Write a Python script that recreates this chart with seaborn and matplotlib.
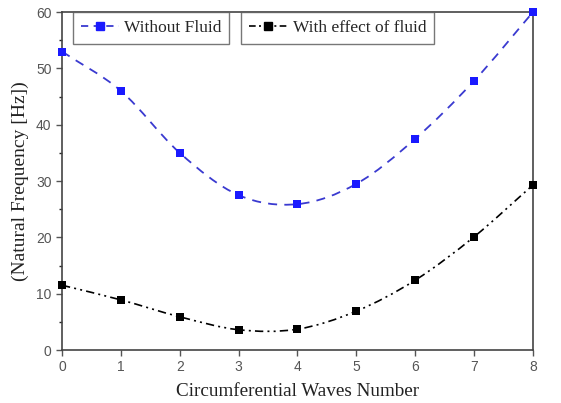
import numpy as np
import pandas as pd
import matplotlib
matplotlib.use("Agg")
import matplotlib.pyplot as plt
from matplotlib.path import Path
from matplotlib.patches import PathPatch
from matplotlib.lines import Line2D
import seaborn as sns

waves = [0, 1, 2, 3, 4, 5, 6, 7, 8]
without_fluid = [53.0, 46.0, 35.0, 27.5, 25.9, 29.5, 37.5, 47.8, 60.0]
with_fluid = [11.5, 8.9, 5.9, 3.6, 3.7, 6.9, 12.4, 20.1, 29.3]
labels = ["Without Fluid", "With effect of fluid"]

sns.set_theme(style="ticks")
plt.rcParams["font.family"] = ["Liberation Sans", "DejaVu Sans"]

fig = plt.figure(figsize=(5.61, 4.03), dpi=100)
ax = fig.add_axes([0.1105, 0.1315, 0.8395, 0.8385])

def smooth_path(xs, ys):
    pts = np.column_stack([xs, ys]).astype(float)
    n = len(pts)
    ext = np.vstack([2 * pts[0] - pts[1], pts, 2 * pts[-1] - pts[-2]])
    verts = [pts[0]]
    codes = [Path.MOVETO]
    for i in range(n - 1):
        p0, p1, p2, p3 = ext[i], ext[i + 1], ext[i + 2], ext[i + 3]
        c1 = p1 + (p2 - p0) / 6.0
        c2 = p2 - (p3 - p1) / 6.0
        verts += [c1, c2, p2]
        codes += [Path.CURVE4] * 3
    return Path(verts, codes)

blue = "#1a1aff"
line_blue = "#3a3ad0"
black = "#000000"

p1 = PathPatch(smooth_path(waves, without_fluid), fill=False, edgecolor=line_blue,
               lw=1.3, linestyle=(0, (5, 4)), clip_on=False, zorder=2)
p2 = PathPatch(smooth_path(waves, with_fluid), fill=False, edgecolor=black,
               lw=1.2, linestyle=(0, (5, 2.5, 1.2, 2.5, 1.2, 2.5)), clip_on=False, zorder=2)
ax.add_patch(p1)
ax.add_patch(p2)

df = pd.DataFrame({"x": waves, "a": without_fluid, "b": with_fluid})
sns.scatterplot(data=df, x="x", y="a", ax=ax, marker="s", s=40, color=blue,
                edgecolor=blue, linewidth=0, zorder=3, clip_on=False)
sns.scatterplot(data=df, x="x", y="b", ax=ax, marker="s", s=40, color=black,
                edgecolor=black, linewidth=0, zorder=3, clip_on=False)

ax.set_xlim(0, 8)
ax.set_ylim(0, 60)
ax.set_xticks(waves)
ax.set_yticks([0, 10, 20, 30, 40, 50, 60])
ax.set_yticks(np.arange(5, 60, 10), minor=True)
ax.tick_params(axis="both", which="major", direction="out", length=4, width=1,
               labelsize=10, colors="#555555", labelcolor="#555555")
ax.tick_params(axis="y", which="minor", direction="out", length=2.5, width=1, left=True)
for s in ax.spines.values():
    s.set_color("#444444")
    s.set_linewidth(1.2)

ax.set_xlabel("Circumferential Waves Number", family="Liberation Serif", fontsize=13.8,
              color="#222222", labelpad=6)
ax.set_ylabel("(Natural Frequency [Hz])", family="Liberation Serif", fontsize=14.0,
              color="#222222", labelpad=5)

h1 = Line2D([], [], color=line_blue, lw=1.3, linestyle=(0, (4, 3)), marker="s",
            markersize=6, markerfacecolor=blue, markeredgecolor=blue)
h2 = Line2D([], [], color=black, lw=1.2, linestyle=(0, (4, 2, 1.2, 2)), marker="s",
            markersize=6, markerfacecolor=black, markeredgecolor=black)
leg_kw = dict(frameon=True, fancybox=False, edgecolor="#555555", handlelength=2.2,
              handletextpad=0.3, borderpad=0.45, borderaxespad=0.0,
              prop={"family": "Liberation Serif", "size": 12.5})
leg1 = ax.legend([h1], [labels[0]], loc="upper left",
                 bbox_to_anchor=(0.023, 1.0), **leg_kw)
leg1.get_frame().set_linewidth(1.0)
ax.add_artist(leg1)
leg2 = ax.legend([h2], [labels[1]], loc="upper left",
                 bbox_to_anchor=(0.381, 1.0), **leg_kw)
leg2.get_frame().set_linewidth(1.0)

fig.savefig("out.png", dpi=100)
